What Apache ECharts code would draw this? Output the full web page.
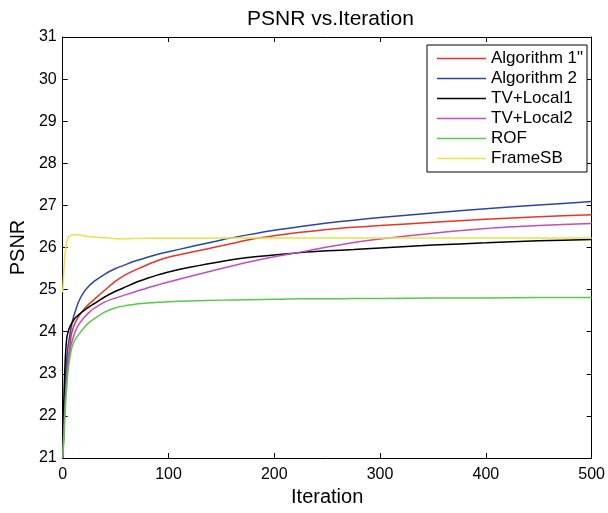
<!DOCTYPE html>
<html>
<head>
<meta charset="utf-8">
<script src="https://cdn.jsdelivr.net/npm/echarts@6/dist/echarts.min.js"></script>
<style>
html,body{margin:0;padding:0;background:#fff;}
#chart{width:608px;height:513px;}
</style>
</head>
<body>
<div id="chart"></div>
<script>
// ---- data ----
const iterations = [0,1,2,3,4,5,6,8,10,12,15,20,25,30,40,50,60,70,80,90,100,120,150,175,200,225,250,275,300,350,400,450,500];
const algorithm1 = [21.0,21.5,22.3,22.8,23.1,23.35,23.5,23.9,24.1,24.22,24.36,24.53,24.66,24.77,24.99,25.2,25.36,25.48,25.59,25.69,25.77,25.88,26.04,26.18,26.28,26.36,26.43,26.48,26.52,26.6,26.67,26.73,26.78];
const algorithm2 = [21.0,21.8,22.6,23.1,23.4,23.65,23.8,24.1,24.33,24.49,24.71,24.94,25.09,25.2,25.37,25.5,25.6,25.69,25.77,25.84,25.9,26.01,26.18,26.3,26.41,26.5,26.58,26.65,26.71,26.82,26.92,27.01,27.09];
const tvLocal1 = [21.0,22.3,23.1,23.6,23.88,23.98,24.07,24.18,24.26,24.33,24.4,24.5,24.59,24.67,24.83,24.96,25.07,25.18,25.27,25.35,25.42,25.53,25.67,25.76,25.82,25.88,25.92,25.95,25.99,26.06,26.11,26.16,26.19];
const tvLocal2 = [21.0,21.6,22.2,22.6,22.95,23.2,23.4,23.7,23.86,24.01,24.16,24.33,24.46,24.56,24.71,24.8,24.88,24.96,25.04,25.11,25.18,25.31,25.5,25.65,25.78,25.89,26.01,26.12,26.2,26.34,26.45,26.52,26.57];
const rof = [21.0,21.4,21.9,22.4,22.75,23.05,23.25,23.55,23.73,23.82,23.93,24.09,24.22,24.31,24.47,24.57,24.62,24.66,24.68,24.7,24.71,24.73,24.75,24.76,24.77,24.78,24.78,24.79,24.79,24.8,24.8,24.81,24.81];
const frameSB = [24.93,25.4,25.8,26.0,26.15,26.22,26.26,26.29,26.3,26.3,26.3,26.28,26.26,26.25,26.23,26.21,26.21,26.215,26.22,26.22,26.22,26.22,26.225,26.225,26.225,26.225,26.225,26.225,26.225,26.225,26.225,26.225,26.225];
const seriesNames = ['Algorithm 1"','Algorithm 2','TV+Local1','TV+Local2','ROF','FrameSB'];
const xTicks = [0,100,200,300,400,500];
const yTicks = [21,22,23,24,25,26,27,28,29,30,31];

// ---- chart ----
const FONT = '"Liberation Sans", Arial, Helvetica, sans-serif';
const colors = ['#e8342a','#2b45a6','#000000','#c24cc2','#58c948','#e9e245'];
const allSeries = [algorithm1, algorithm2, tvLocal1, tvLocal2, rof, frameSB];

const chart = echarts.init(document.getElementById('chart'), null, {renderer:'canvas'});

function axisCommon(show, margin){
  return {
    axisLine:{show:true, onZero:false, lineStyle:{color:'#000', width:1}},
    axisTick:{show:true, inside:true, length:5, lineStyle:{color:'#000', width:1}},
    splitLine:{show:false},
    axisLabel:{show:show, color:'#000', fontSize:16, fontFamily:FONT, margin:margin}
  };
}

const option = {
  animation:false,
  backgroundColor:'#fff',
  title:{
    text:'PSNR vs.Iteration',
    left:242, top:4,
    textStyle:{fontFamily:FONT, fontSize:21, fontWeight:'normal', color:'#000'}
  },
  grid:{left:62, right:13, top:37, bottom:55, containLabel:false},
  legend:{
    orient:'vertical',
    left:427, top:45,
    padding:[5,4,5,10],
    itemGap:3,
    itemWidth:49, itemHeight:1.5,
    icon:'rect',
    borderColor:'#000', borderWidth:1,
    backgroundColor:'#fff',
    textStyle:{fontFamily:FONT, fontSize:17, color:'#000'},
    data:seriesNames
  },
  xAxis:[
    Object.assign({type:'value', min:xTicks[0], max:xTicks[xTicks.length-1], interval:100, position:'bottom',
      name:'Iteration', nameLocation:'middle', nameGap:28,
      nameTextStyle:{fontFamily:FONT, fontSize:20, color:'#000'}}, axisCommon(true, 9)),
    Object.assign({type:'value', min:xTicks[0], max:xTicks[xTicks.length-1], interval:100, position:'top'}, axisCommon(false, 8))
  ],
  yAxis:[
    Object.assign({type:'value', min:yTicks[0], max:yTicks[yTicks.length-1], interval:1, position:'left',
      name:'PSNR', nameLocation:'middle', nameGap:34,
      nameTextStyle:{fontFamily:FONT, fontSize:20, color:'#000'}}, axisCommon(true, 6)),
    Object.assign({type:'value', min:yTicks[0], max:yTicks[yTicks.length-1], interval:1, position:'right'}, axisCommon(false, 8))
  ],
  series: seriesNames.map((name,i)=>({
    name:name,
    type:'line',
    xAxisIndex:0, yAxisIndex:0,
    data: iterations.map((x,j)=>[x, allSeries[i][j]]),
    showSymbol:false, symbol:'none',
    smooth:0.25,
    clip:true,
    color:colors[i],
    lineStyle:{color:colors[i], width:1.5},
    itemStyle:{color:colors[i]}
  }))
};
chart.setOption(option);
</script>
</body>
</html>
